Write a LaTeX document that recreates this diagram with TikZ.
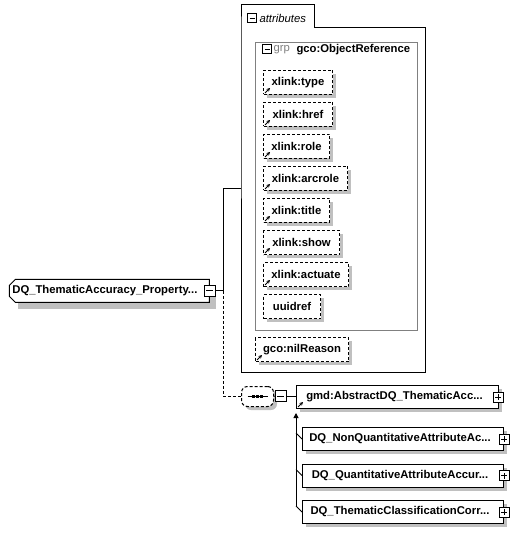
\documentclass[tikz,border=0pt]{standalone}
\usepackage{fontspec}
\setmainfont{Liberation Sans}
\usetikzlibrary{shapes.misc,arrows.meta}
\definecolor{shadowgray}{RGB}{192,192,192}
\definecolor{grpgray}{RGB}{128,128,128}
\tikzset{
  lbl/.style={font=\fontsize{11.3}{13}\selectfont\bfseries},
  dsh/.style={dash pattern=on 3pt off 2pt},
  attr/.style={lbl, draw, fill=white, dsh, inner sep=0pt, minimum height=24pt, anchor=north west},
  elem/.style={lbl, draw, fill=white, inner sep=0pt, minimum height=23pt, anchor=north west},
  minusbox/.style={draw, fill=white, solid, minimum size=10pt, inner sep=0pt,
    path picture={\draw[line width=1pt] ([xshift=2pt]path picture bounding box.west) -- ([xshift=-2pt]path picture bounding box.east);}},
  plusbox/.style={draw, fill=white, solid, minimum size=10pt, inner sep=0pt,
    path picture={\draw[line width=1pt] ([xshift=2pt]path picture bounding box.west) -- ([xshift=-2pt]path picture bounding box.east);
                  \draw[line width=1pt] ([yshift=2pt]path picture bounding box.south) -- ([yshift=-2pt]path picture bounding box.north);}},
  refmark/.style={-{Stealth[length=3.5pt,width=3.5pt]}, line width=1pt, solid},
}
\newcommand{\shadowfor}[4]{\fill[shadowgray] (#1+4,#2+4) rectangle (#1+4+#3,#2+4+#4);}
\begin{document}
\begin{tikzpicture}[x=1pt,y=-1pt,line width=1pt]
\useasboundingbox (0,0) rectangle (517,534);

% attributes container
\draw[fill=white] (241,28) -- (241,5) -- (314,5) -- (314,28) -- (425,28) -- (425,372) -- (241,372) -- cycle;

% shadows (drawn first, behind the boxes)
\shadowfor{263}{70}{69}{24}
\shadowfor{263}{102}{69}{24}
\shadowfor{263}{134}{66}{24}
\shadowfor{263}{166}{84}{24}
\shadowfor{263}{198}{66}{24}
\shadowfor{263}{230}{76}{24}
\shadowfor{263}{262}{85}{24}
\shadowfor{263}{294}{57}{24}
\shadowfor{255}{337}{93}{24}
\shadowfor{14}{282}{198}{23}
\fill[shadowgray, rounded corners=6pt] (245,390) rectangle (277,410);
\shadowfor{296}{385}{202}{23}
\shadowfor{302}{427}{201}{23}
\shadowfor{302}{463.5}{201}{23}
\shadowfor{302}{500}{201}{23}

\node (attmin) [minusbox, minimum size=9pt] at (252,18.5) {};
\node (atttxt) [anchor=west, inner sep=0pt, font=\fontsize{11.3}{13}\selectfont\itshape] at (259,18.5) {attributes};
\coordinate (attjoin) at (241,189);

% group
\node (grp) [draw=grpgray, anchor=north west, minimum width=162pt, minimum height=288pt, inner sep=0pt] at (255,42) {};
\node (grpmin) [minusbox, minimum size=9pt] at (267,49.5) {};
\node (grptag) [anchor=west, inner sep=0pt, text=grpgray, font=\fontsize{11.3}{13}\selectfont] at (273,49.5) {grp};
\node (grpname) [anchor=west, inner sep=0pt, lbl] at (296,49.5) {gco:ObjectReference};

% attributes
\node (xtype) [attr, minimum width=69pt] at (263,70) {xlink:type};
\node (xhref) [attr, minimum width=69pt] at (263,102) {xlink:href};
\node (xrole) [attr, minimum width=66pt] at (263,134) {xlink:role};
\node (xarc) [attr, minimum width=84pt] at (263,166) {xlink:arcrole};
\node (xtitle) [attr, minimum width=66pt] at (263,198) {xlink:title};
\node (xshow) [attr, minimum width=76pt] at (263,230) {xlink:show};
\node (xact) [attr, minimum width=85pt] at (263,262) {xlink:actuate};
\node (uuid) [attr, minimum width=57pt] at (263,294) {uuidref};
\node (nil) [attr, minimum width=93pt] at (255,337) {gco:nilReason};
\foreach \n in {xtype,xhref,xrole,xarc,xtitle,xshow,xact,nil}
  \draw[refmark] ([shift={(2,-2)}]\n.south west) -- ++(5,-5);

% main element
\node (main) [lbl, draw, fill=white, chamfered rectangle, chamfered rectangle corners={north west,south west},
  chamfered rectangle xsep=3pt, chamfered rectangle ysep=3pt, inner sep=0pt,
  minimum width=200pt, minimum height=23pt, anchor=north west] at (12,282) {DQ\_ThematicAccuracy\_Property...\kern9pt};
\node (mmin) [minusbox, minimum size=11pt] at (main.east) {};
\coordinate (j1) at ([xshift=8pt]mmin.east);
\draw (mmin.east) -- (j1) |- (attjoin);

% sequence
\node (seq) [draw, fill=white, dsh, rounded corners=6pt, minimum width=32pt, minimum height=20pt, inner sep=0pt, anchor=north west] at (241,386) {};
\draw ([xshift=-10pt]seq.center) -- ([xshift=10pt]seq.center);
\foreach \dx in {-4,0,4}
  \fill ([xshift=\dx pt]seq.center) +(-1.6,-1.6) rectangle +(1.6,1.6);
\draw[dsh] (j1) |- (seq.west);
\node (smin) [minusbox, minimum size=11pt] at (280.5,396) {};
\draw (seq.east) -- (smin.west);

% abstract element
\node (gmd) [elem, minimum width=202pt] at (296,385) {gmd:AbstractDQ\_ThematicAcc...\kern6pt};
\node (gplus) [plusbox] at ([xshift=-1pt]gmd.east) {};
\draw[refmark] ([shift={(2,-2)}]gmd.south west) -- ++(5,-5);
\draw (smin.east) -- (smin.east -| gmd.west);

% substitution group members
\node (s1) [elem, minimum width=201pt] at (302,427) {DQ\_NonQuantitativeAttributeAc...\kern6pt};
\node (s2) [elem, minimum width=201pt] at (302,463.5) {DQ\_QuantitativeAttributeAccur...\kern6pt};
\node (s3) [elem, minimum width=201pt] at (302,500) {DQ\_ThematicClassificationCorr...\kern6pt};
\foreach \n in {s1,s2,s3} {
  \node (\n plus) [plusbox] at (\n.east) {};
  \draw ([shift={(-6,-6)}]\n.west) -- (\n.west);
}
\coordinate (atip) at ([yshift=-4pt]gmd.south west);
\draw[-{Triangle[length=5pt,width=5pt]}] ([shift={(-6,-6)}]s3.west) -- (atip);
\end{tikzpicture}
\end{document}
